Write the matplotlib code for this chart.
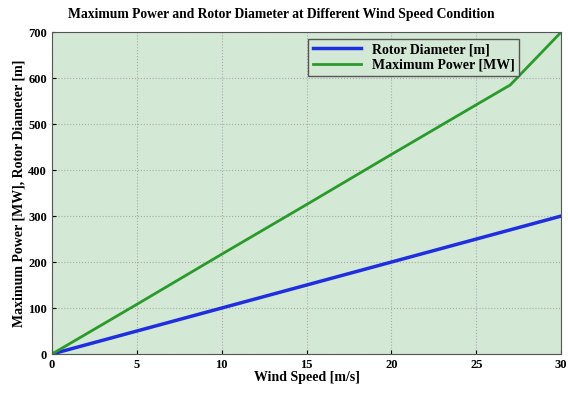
import matplotlib.pyplot as plt

wind = [0, 5, 10, 15, 20, 25, 27, 30]
power = [0, 108, 217, 325, 434, 542, 585, 700]
rotor = [0, 50, 100, 150, 200, 250, 270, 300]

plt.rcParams['font.family'] = ['Liberation Serif', 'DejaVu Serif']
plt.rcParams['font.weight'] = 'bold'

fig = plt.figure(figsize=(5.68, 3.96), dpi=100)
ax = fig.add_axes([0.0915, 0.106, 0.8965, 0.813])
ax.set_facecolor('#d4e8d6')
ax.plot(wind, rotor, color='#1f2fe0', lw=2.5, label='Rotor Diameter [m]')
ax.plot(wind, power, color='#2a9a2a', lw=2, label='Maximum Power [MW]')
ax.set_xlim(0, 30)
ax.set_ylim(0, 700)
ax.grid(True, ls=':', color='#aaaaaa', lw=0.8)
ax.tick_params(labelsize=9, length=3, direction='in')
ax.set_xlabel('Wind Speed [m/s]', fontsize=10, fontweight='bold', labelpad=0)
ax.set_ylabel('Maximum Power [MW], Rotor Diameter [m]', fontsize=10, fontweight='bold', labelpad=2)
ax.set_title('Maximum Power and Rotor Diameter at Different Wind Speed Condition', fontsize=9.8, fontweight='bold', pad=10, x=0.45)
leg = ax.legend(loc='upper left', bbox_to_anchor=(0.49, 1.0), fontsize=10, fancybox=False, framealpha=1, edgecolor='#555555', handlelength=3.5, borderpad=0.3, labelspacing=0.2)
leg.get_frame().set_facecolor('#d4e8d6')
for s in ax.spines.values():
    s.set_color('#555555')
fig.savefig('out.png', dpi=100)
